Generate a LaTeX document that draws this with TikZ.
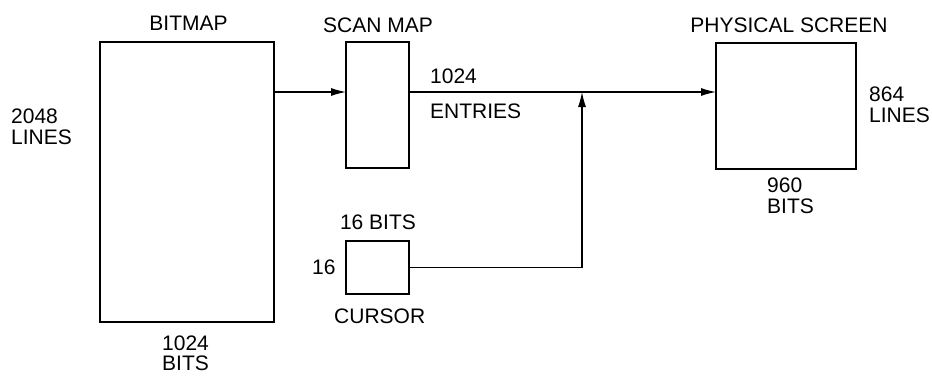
\documentclass[tikz,border=0pt]{standalone}
\usepackage{fontspec}
\setmainfont{Liberation Sans}
\usetikzlibrary{arrows.meta}
\begin{document}
\begin{tikzpicture}[x=1pt,y=-1pt,
  box/.style={draw,line width=2pt,inner sep=0pt,outer sep=0pt},
  lbl/.style={inner sep=0pt,font=\fontsize{21}{20.5}\selectfont,align=left},
  conn/.style={line width=1.1pt},
  arr/.style={-{Latex[length=15pt,width=8pt]}}]
\useasboundingbox (0,0) rectangle (932,375);
% boxes
\node[box,minimum width=174pt,minimum height=280pt] (bitmap) at (187,182) {};
\node[box,minimum width=63pt,minimum height=126pt] (scan) at (377.5,105) {};
\node[box,minimum width=63pt,minimum height=53pt] (cursor) at (377.5,267.5) {};
\node[box,minimum width=140pt,minimum height=126pt] (screen) at (786,106) {};
% labels
\node[lbl,anchor=north] (lbitmap) at (188.5,16) {BITMAP};
\node[lbl,anchor=north] (lscan) at (378,18) {SCAN MAP};
\node[lbl,anchor=north] (lscreen) at (789,18) {PHYSICAL SCREEN};
\node[lbl,anchor=north west] (llines) at (11,109) {2048\\LINES};
\node[lbl,anchor=north west] (lbits) at (162,335.5) {1024\\BITS};
\node[lbl,anchor=north] (lcbits) at (378,215) {16 BITS};
\node[lbl,anchor=north west] (lc16) at (312,260) {16};
\node[lbl,anchor=north west] (lcursor) at (334,309) {CURSOR};
\node[lbl,anchor=north west] (lentn) at (430,69) {1024};
\node[lbl,anchor=north west] (lent) at (430,104) {ENTRIES};
\node[lbl,anchor=north west] (lslines) at (869,87) {864\\LINES};
\node[lbl,anchor=north west] (lsbits) at (767,178) {960\\BITS};
% connectors
\coordinate (j) at (582,92);
\draw[conn,arr] (bitmap.east |- j) -- (scan.west |- j);
\draw[conn,arr] (scan.east |- j) -- (screen.west |- j);
\draw[conn,arr] (cursor.east) -| (j);
\end{tikzpicture}
\end{document}
